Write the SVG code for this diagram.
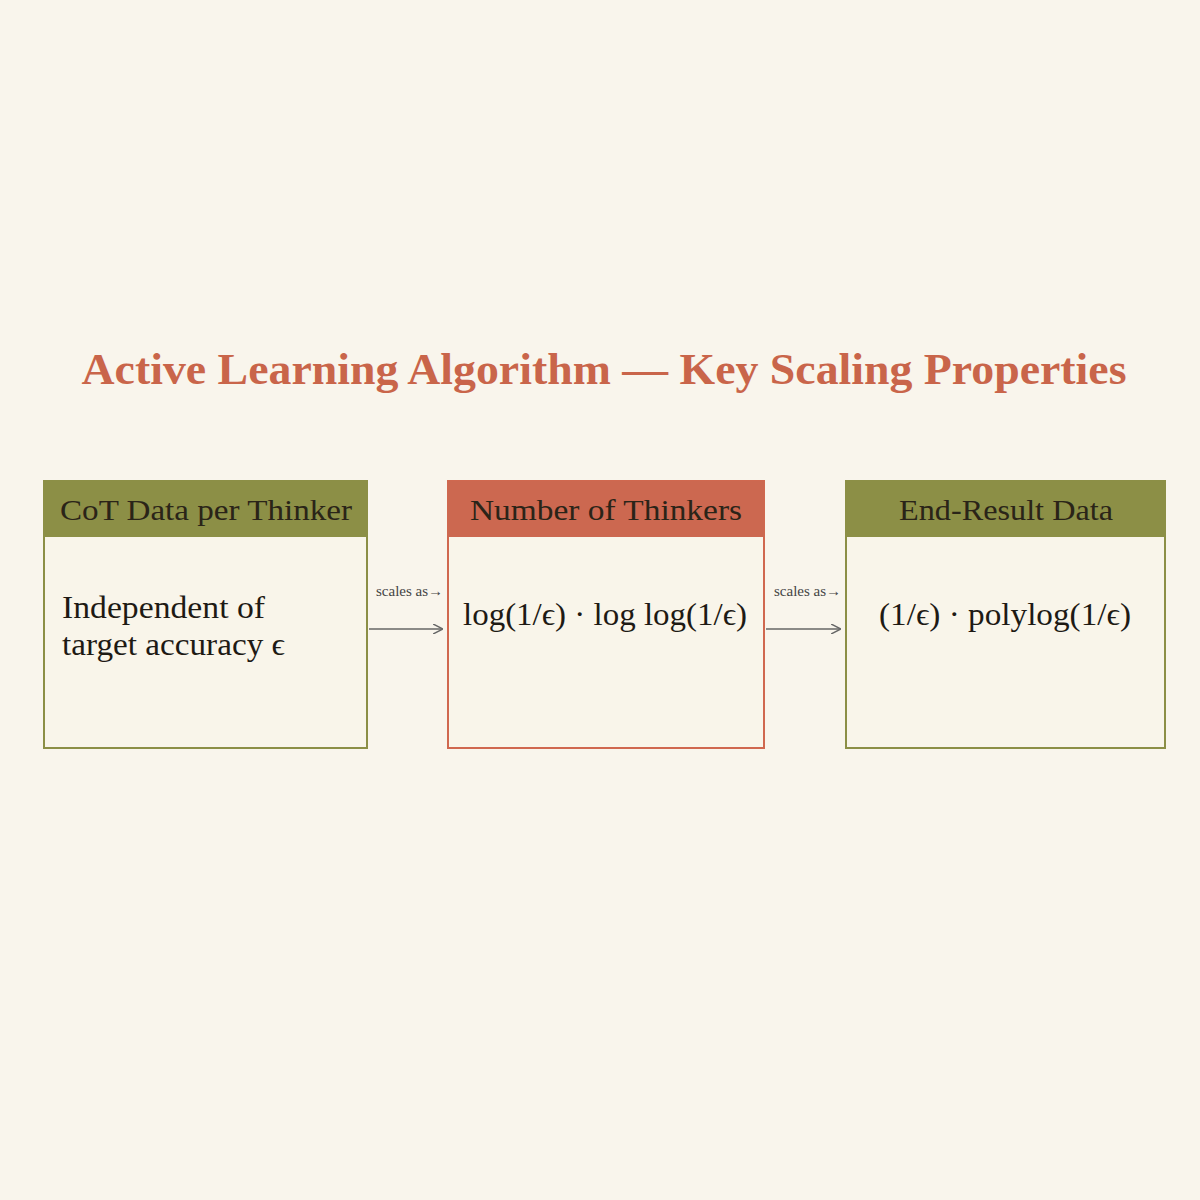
<svg xmlns="http://www.w3.org/2000/svg" width="1200" height="1200" viewBox="0 0 1200 1200">
<defs>
<style>
.t{font-family:"Liberation Serif","DejaVu Serif",serif;}
.box{fill:#f9f5ea;stroke-width:2;}
.head{font-family:"Liberation Serif","DejaVu Serif",serif;font-size:30px;fill:#2a2418;text-anchor:middle;}
.body{font-family:"Liberation Serif","DejaVu Serif",serif;font-size:32px;fill:#1e1a14;}
.lab{font-family:"Liberation Serif","DejaVu Serif",serif;font-size:15px;fill:#444;}
.conn{stroke:#666;stroke-width:1.5;fill:none;}
</style>
<marker id="ar" viewBox="0 0 10 10" refX="9" refY="5" markerWidth="10" markerHeight="10" markerUnits="userSpaceOnUse" orient="auto"><path d="M0,0 L10,5 L0,10" fill="none" stroke="#666" stroke-width="1.5"/></marker>
</defs>
<rect width="1200" height="1200" fill="#f9f5ec"/>
<text class="t" x="604" y="384" font-size="44" font-weight="bold" fill="#c9654a" text-anchor="middle" textLength="1045" lengthAdjust="spacingAndGlyphs">Active Learning Algorithm — Key Scaling Properties</text>
<g id="n1">
<rect class="box" x="44" y="481" width="323" height="267" stroke="#8c8f46"/>
<rect x="44" y="481" width="323" height="56" fill="#8c8f46"/>
<text class="head" x="206" y="520" textLength="292" lengthAdjust="spacingAndGlyphs">CoT Data per Thinker</text>
<text class="body" x="62" y="618" textLength="203" lengthAdjust="spacingAndGlyphs">Independent of</text>
<text class="body" x="62" y="655" textLength="223" lengthAdjust="spacingAndGlyphs">target accuracy ϵ</text>
</g>
<g id="n2">
<rect class="box" x="448" y="481" width="316" height="267" stroke="#d0684f"/>
<rect x="448" y="481" width="316" height="56" fill="#cc6850"/>
<text class="head" x="606" y="520" textLength="272" lengthAdjust="spacingAndGlyphs">Number of Thinkers</text>
<text class="body" x="605" y="625" text-anchor="middle" textLength="284" lengthAdjust="spacingAndGlyphs">log(1/ϵ) · log log(1/ϵ)</text>
</g>
<g id="n3">
<rect class="box" x="846" y="481" width="319" height="267" stroke="#8c8f46"/>
<rect x="846" y="481" width="319" height="56" fill="#8c8f46"/>
<text class="head" x="1006" y="520" textLength="214" lengthAdjust="spacingAndGlyphs">End-Result Data</text>
<text class="body" x="1005" y="625" text-anchor="middle" textLength="252" lengthAdjust="spacingAndGlyphs">(1/ϵ) · polylog(1/ϵ)</text>
</g>
<g id="connectors">
<line class="conn" x1="369" y1="629" x2="442" y2="629" marker-end="url(#ar)"/>
<text class="lab" x="376" y="596">scales as→</text>
<line class="conn" x1="766" y1="629" x2="840" y2="629" marker-end="url(#ar)"/>
<text class="lab" x="774" y="596">scales as→</text>
</g>
</svg>
